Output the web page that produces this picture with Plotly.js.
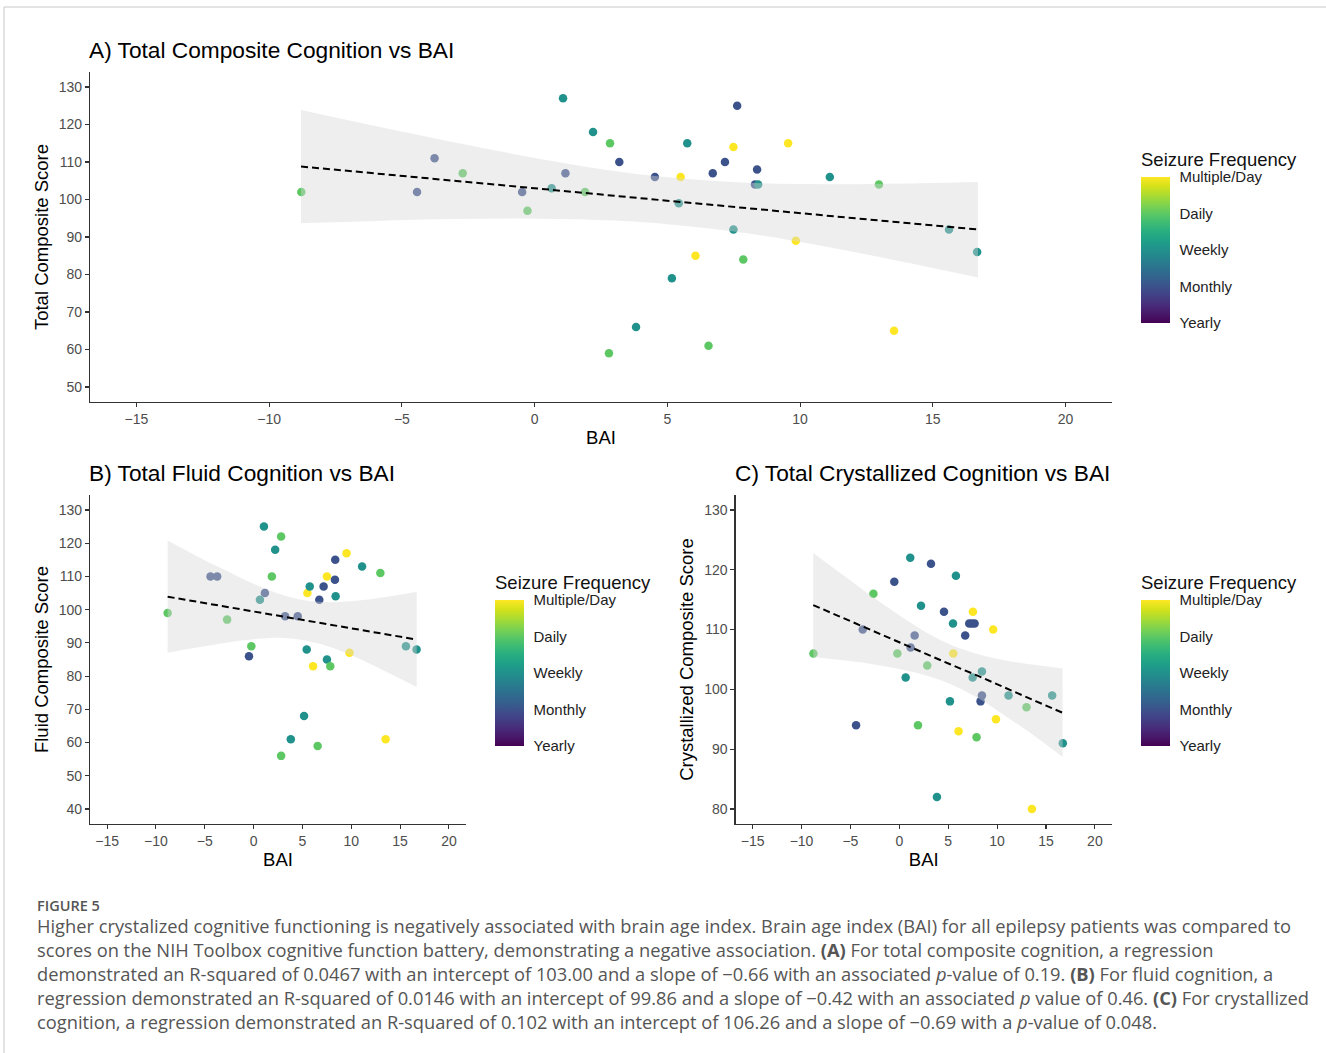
<!DOCTYPE html>
<html>
<head>
<meta charset="utf-8">
<script src="https://cdn.plot.ly/plotly-3.0.1.min.js"></script>
<style>html,body{margin:0;padding:0;background:#fff;}#chart{width:1326px;height:1053px;}</style>
</head>
<body>
<div id="chart"></div>
<script>
// ---------- DATA ----------
// Frequency codes: 1 = Yearly, 2 = Monthly, 3 = Weekly, 4 = Daily, 5 = Multiple/Day
const freqTickVals = [1, 2, 3, 4, 5];
const freqTickText = ['Yearly', 'Monthly', 'Weekly', 'Daily', 'Multiple/Day'];

// Panel A: Total Composite Cognition
const baiA = [-8.79,-4.43,-3.77,-2.71,-0.47,-0.27,0.64,1.07,1.16,1.90,2.20,2.84,2.80,3.19,3.82,4.53,5.17,5.43,5.50,5.75,6.06,7.63,7.49,7.17,6.71,8.38,8.30,8.42,9.55,11.12,12.97,7.49,7.86,9.84,6.55,13.54,15.61,16.67];
const scoreA = [102,102,111,107,102,97,103,127,107,102,118,115,59,110,66,106,79,99,106,115,85,125,114,110,107,108,104,104,115,106,104,92,84,89,61,65,92,86];
const freqA = [4,2,2,4,2,4,3,3,2,4,3,4,4,2,3,2,3,3,5,3,5,2,5,2,2,2,2,3,5,3,4,3,4,5,4,5,3,3];

// Panel B: Total Fluid Cognition
const baiB = [-8.80,-4.41,-3.73,-2.71,-0.47,-0.23,0.65,1.16,1.06,1.87,2.21,2.82,2.82,3.23,3.81,4.52,5.17,5.44,5.51,5.75,6.09,6.56,6.73,7.17,7.51,7.51,7.85,8.36,8.33,8.40,9.52,9.82,11.11,12.98,13.52,15.60,16.69];
const scoreB = [99,110,110,97,86,89,103,105,125,110,118,122,56,98,61,98,68,88,105,107,83,59,103,107,110,85,83,115,109,104,117,87,113,111,61,89,88];
const freqB = [4,2,2,4,2,4,3,2,3,4,3,4,4,2,3,2,3,3,5,3,5,4,2,2,5,3,4,2,2,3,5,5,3,4,5,3,3];

// Panel C: Total Crystallized Cognition
const baiC = [-8.78,-4.42,-3.74,-2.65,-0.51,-0.20,0.65,1.12,1.16,1.57,1.91,2.22,2.86,3.24,3.85,4.57,5.18,5.52,5.49,5.79,6.06,6.74,7.15,7.43,7.70,7.53,7.50,7.90,8.45,8.45,8.31,9.60,9.88,11.17,13.01,13.56,15.63,16.72];
const scoreC = [106,94,110,116,118,106,102,122,107,109,94,114,104,121,82,113,98,106,111,119,93,109,111,111,111,113,102,92,103,99,98,110,95,99,97,80,99,91];
const freqC = [4,2,2,4,2,4,3,3,2,2,4,3,4,2,3,2,3,5,3,3,5,2,2,2,2,5,3,4,3,2,2,5,5,3,4,5,3,3];

// Linear fit and 95% band at these BAI values
const fitX = [-8.8,-6,-3,0,3,5.2,8,11,14,16.7];
const fitA = [108.8,107.0,105.0,103.0,101.0,99.6,97.7,95.7,93.8,92.0];
const lowA = [93.7,94.3,94.8,94.9,94.4,93.3,91.0,87.4,83.2,79.2];
const highA = [123.9,119.6,115.2,111.1,107.6,105.8,104.5,104.1,104.3,104.7];
const fitB = [103.9,102.5,101.0,99.5,97.9,96.8,95.4,93.9,92.4,91.0];
const lowB = [87.0,88.5,90.0,91.1,91.5,90.8,88.6,85.0,80.7,76.7];
const highB = [120.8,116.4,112.0,107.8,104.4,102.8,102.2,102.8,104.0,105.4];
const fitC = [114.1,112.1,110.0,107.9,105.8,104.2,102.3,100.1,98.0,96.1];
const lowC = [105.4,104.9,104.3,103.4,102.2,100.9,98.6,95.4,92.0,88.7];
const highC = [122.8,119.4,115.8,112.4,109.3,107.5,105.9,104.8,104.1,103.5];

const xTicks = [-15,-10,-5,0,5,10,15,20];
const yTicksA = [50,60,70,80,90,100,110,120,130];
const yTicksB = [40,50,60,70,80,90,100,110,120,130];
const yTicksC = [80,90,100,110,120,130];

// ---------- DRAWING ----------
const W = 1326, H = 1053;
const px = v => v / W;
const py = v => 1 - v / H;
const FONT = 'Liberation Sans, Arial, sans-serif';
const bandFill = 'rgba(215,215,215,0.42)';

function panelTraces(bai, score, freq, fit, low, high, xa, ya, cax) {
  return [
    {type:'scatter', mode:'markers', x:bai, y:score, xaxis:xa, yaxis:ya,
     marker:{size:8.5, color:freq, coloraxis:cax, line:{width:0}}, showlegend:false, hoverinfo:'skip'},
    {type:'scatter', mode:'lines', x:fitX, y:low, xaxis:xa, yaxis:ya,
     line:{width:0, shape:'spline', color:'rgba(0,0,0,0)'}, showlegend:false, hoverinfo:'skip'},
    {type:'scatter', mode:'lines', x:fitX, y:high, xaxis:xa, yaxis:ya, fill:'tonexty',
     fillcolor:bandFill, line:{width:0, shape:'spline', color:'rgba(0,0,0,0)'}, showlegend:false, hoverinfo:'skip'},
    {type:'scatter', mode:'lines', x:fitX, y:fit, xaxis:xa, yaxis:ya,
     line:{color:'#000', width:2, dash:'7px,4px'}, showlegend:false, hoverinfo:'skip'}
  ];
}

const data = [].concat(
  panelTraces(baiA, scoreA, freqA, fitA, lowA, highA, 'x', 'y', 'coloraxis'),
  panelTraces(baiB, scoreB, freqB, fitB, lowB, highB, 'x2', 'y2', 'coloraxis2'),
  panelTraces(baiC, scoreC, freqC, fitC, lowC, highC, 'x3', 'y3', 'coloraxis3')
);

function xAxis(dom, anchor) {
  return {domain:dom, anchor:anchor, range:[-16.75,21.75], tickvals:xTicks,
    showline:true, linecolor:'#333', linewidth:1.2, ticks:'outside', ticklen:4, tickwidth:1.1, tickcolor:'#333',
    tickfont:{family:FONT, size:14, color:'#4d4d4d'}, showgrid:false, zeroline:false,
    title:{text:'BAI', font:{family:FONT, size:18.5, color:'#000'}, standoff:5}};
}
function yAxis(dom, anchor, range, ticks, title) {
  return {domain:dom, anchor:anchor, range:range, tickvals:ticks,
    showline:true, linecolor:'#333', linewidth:1.2, ticks:'outside', ticklen:4, tickwidth:1.1, tickcolor:'#333',
    tickfont:{family:FONT, size:14, color:'#4d4d4d'}, showgrid:false, zeroline:false,
    title:{text:title, font:{family:FONT, size:18.5, color:'#000'}, standoff:5}};
}
function colorAx(xLeft, yTop) {
  return {cmin:1, cmax:5, colorscale:'Viridis', showscale:true,
    colorbar:{x:px(xLeft), xanchor:'left', xpad:0, y:py(yTop), yanchor:'top', ypad:0,
      len:146, lenmode:'pixels', thickness:29, thicknessmode:'pixels', outlinewidth:0,
      tickvals:freqTickVals, ticktext:freqTickText, ticks:'outside', ticklen:7, tickcolor:'rgba(0,0,0,0)', tickwidth:1,
      tickfont:{family:FONT, size:15, color:'#222'}}};
}

const captionLines = [
  'Higher crystalized cognitive functioning is negatively associated with brain age index. Brain age index (BAI) for all epilepsy patients was compared to',
  'scores on the NIH Toolbox cognitive function battery, demonstrating a negative association. <b>(A)</b> For total composite cognition, a regression',
  'demonstrated an R-squared of 0.0467 with an intercept of 103.00 and a slope of \u22120.66 with an associated <i>p</i>-value of 0.19. <b>(B)</b> For fluid cognition, a',
  'regression demonstrated an R-squared of 0.0146 with an intercept of 99.86 and a slope of \u22120.42 with an associated <i>p</i> value of 0.46. <b>(C)</b> For crystallized',
  'cognition, a regression demonstrated an R-squared of 0.102 with an intercept of 106.26 and a slope of \u22120.69 with a <i>p</i>-value of 0.048.'
];
const captionY = [925, 949, 973, 997, 1021];

const annotations = [
  {text:'A) Total Composite Cognition vs BAI', x:px(87), y:py(50)},
  {text:'B) Total Fluid Cognition vs BAI', x:px(87), y:py(473)},
  {text:'C) Total Crystallized Cognition vs BAI', x:px(733), y:py(473)}
].map(a => Object.assign(a, {xref:'paper', yref:'paper', xanchor:'left', yanchor:'middle', showarrow:false,
  font:{family:FONT, size:22.7, color:'#000'}}));

[[1139, 159], [493, 582], [1139, 582]].forEach(p => annotations.push({text:'Seizure Frequency',
  x:px(p[0]), y:py(p[1]), xref:'paper', yref:'paper', xanchor:'left', yanchor:'middle', showarrow:false,
  font:{family:FONT, size:18.5, color:'#111'}}));

annotations.push({text:'FIGURE 5', x:px(36), y:py(905), xref:'paper', yref:'paper', xanchor:'left', yanchor:'middle',
  showarrow:false, borderpad:0, font:{family:'Open Sans, sans-serif', size:14.5, color:'#555', weight:600}});
captionLines.forEach((t, i) => annotations.push({text:t, x:px(36), y:py(captionY[i]), xref:'paper', yref:'paper',
  xanchor:'left', yanchor:'middle', showarrow:false, borderpad:0,
  font:{family:'Open Sans, sans-serif', size:18.3, color:'#555'}}));

const layout = {
  width:W, height:H, margin:{l:0, r:0, t:0, b:0}, paper_bgcolor:'#fff', plot_bgcolor:'rgba(0,0,0,0)',
  font:{family:FONT},
  xaxis: xAxis([px(90), px(1112)], 'y'),
  yaxis: yAxis([py(402), py(72)], 'x', [46,134], yTicksA, 'Total Composite Score'),
  xaxis2: xAxis([px(90), px(466)], 'y2'),
  yaxis2: yAxis([py(824), py(495)], 'x2', [35.5,134.5], yTicksB, 'Fluid Composite Score'),
  xaxis3: xAxis([px(735.5), px(1112)], 'y3'),
  yaxis3: yAxis([py(824), py(495)], 'x3', [77.5,132.5], yTicksC, 'Crystallized Composite Score'),
  coloraxis: colorAx(1141, 177),
  coloraxis2: colorAx(495, 600),
  coloraxis3: colorAx(1141, 600),
  annotations: annotations,
  shapes:[{type:'rect', xref:'paper', yref:'paper', x0:px(4), x1:px(1340), y0:py(1070), y1:py(7),
    line:{color:'#c8c8c8', width:1}, fillcolor:'rgba(0,0,0,0)'}]
};

Plotly.newPlot('chart', data, layout, {staticPlot:true, displayModeBar:false});
</script>
</body>
</html>
